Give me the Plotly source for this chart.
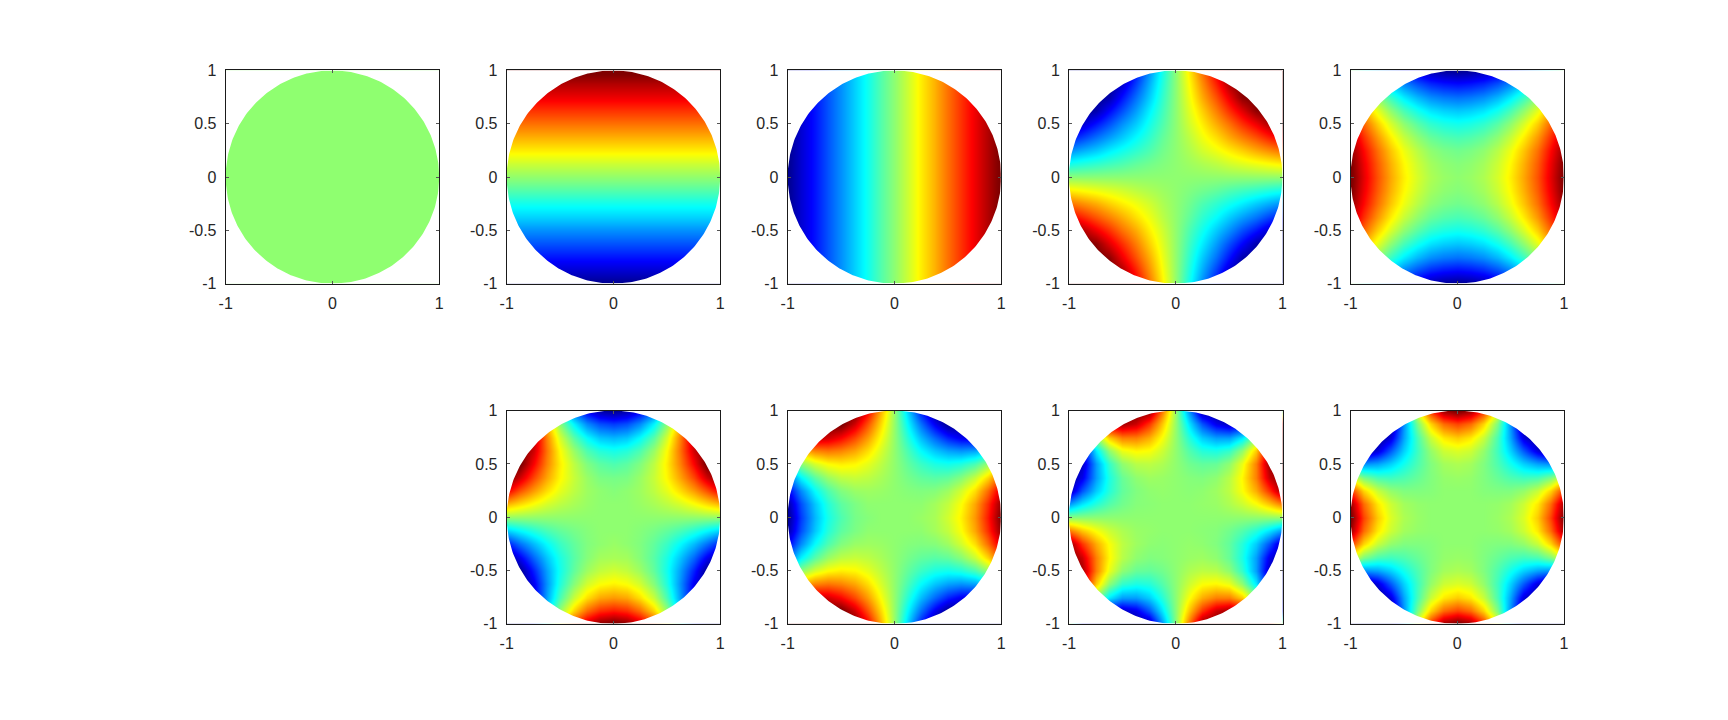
import numpy as np
import plotly.graph_objects as go

# Rows run from y = +1 (top) to y = -1 (bottom); columns from x = -1 to x = +1.
GRID = [-1, -.875, -.75, -.625, -.5, -.375, -.25, -.125, 0, .125, .25, .375, .5, .625, .75, .875, 1]
EDGE = [-1, 1]
TICK_VALUES = [-1, -0.5, 0, 0.5, 1]
Y_TICK_LABELS = ["-1", "-0.5", "0", "0.5", "1"]
X_TICK_VALUES = [-1, 0, 1]
X_TICK_LABELS = ["-1", "0", "1"]

PANEL_1 = [[0, 0], [0, 0]]
PANEL_2_ROWS = [100, 87, 75, 62, 50, 37, 25, 12, 0, -12, -25, -37, -50, -62, -75, -87, -100]
PANEL_3_COLUMNS = [-100, -87, -75, -62, -50, -37, -25, -12, 0, 12, 25, 37, 50, 62, 75, 87, 100]

PANEL_4 = [
    [-100,-100,-100,-100,-100,-75,-50,-25,0,25,50,75,100,100,100,100,100],
    [-100,-100,-100,-100,-88,-66,-44,-22,0,22,44,66,88,100,100,100,100],
    [-100,-100,-100,-94,-75,-56,-38,-19,0,19,38,56,75,94,100,100,100],
    [-100,-100,-94,-78,-63,-47,-31,-16,0,16,31,47,63,78,94,100,100],
    [-100,-88,-75,-63,-50,-38,-25,-13,0,13,25,38,50,63,75,88,100],
    [-75,-66,-56,-47,-38,-28,-19,-9,0,9,19,28,38,47,56,66,75],
    [-50,-44,-38,-31,-25,-19,-13,-6,0,6,13,19,25,31,38,44,50],
    [-25,-22,-19,-16,-13,-9,-6,-3,0,3,6,9,13,16,19,22,25],
    [0,0,0,0,0,0,0,0,0,0,0,0,0,0,0,0,0],
    [25,22,19,16,13,9,6,3,0,-3,-6,-9,-13,-16,-19,-22,-25],
    [50,44,38,31,25,19,13,6,0,-6,-13,-19,-25,-31,-38,-44,-50],
    [75,66,56,47,38,28,19,9,0,-9,-19,-28,-38,-47,-56,-66,-75],
    [100,88,75,63,50,38,25,13,0,-13,-25,-38,-50,-63,-75,-88,-100],
    [100,100,94,78,63,47,31,16,0,-16,-31,-47,-63,-78,-94,-100,-100],
    [100,100,100,94,75,56,38,19,0,-19,-38,-56,-75,-94,-100,-100,-100],
    [100,100,100,100,88,66,44,22,0,-22,-44,-66,-88,-100,-100,-100,-100],
    [100,100,100,100,100,75,50,25,0,-25,-50,-75,-100,-100,-100,-100,-100],
]

PANEL_5 = [
    [0,-23,-44,-61,-75,-86,-94,-98,-100,-98,-94,-86,-75,-61,-44,-23,0],
    [23,0,-21,-38,-52,-63,-71,-75,-77,-75,-71,-63,-52,-38,-21,0,23],
    [44,21,0,-17,-31,-42,-50,-54,-56,-54,-50,-42,-31,-17,0,21,44],
    [61,38,17,0,-14,-25,-33,-37,-39,-37,-33,-25,-14,0,17,38,61],
    [75,52,31,14,0,-11,-19,-23,-25,-23,-19,-11,0,14,31,52,75],
    [86,63,42,25,11,0,-8,-12,-14,-12,-8,0,11,25,42,63,86],
    [94,71,50,33,19,8,0,-4,-6,-4,0,8,19,33,50,71,94],
    [98,75,54,37,23,12,4,0,-2,0,4,12,23,37,54,75,98],
    [100,77,56,39,25,14,6,2,0,2,6,14,25,39,56,77,100],
    [98,75,54,37,23,12,4,0,-2,0,4,12,23,37,54,75,98],
    [94,71,50,33,19,8,0,-4,-6,-4,0,8,19,33,50,71,94],
    [86,63,42,25,11,0,-8,-12,-14,-12,-8,0,11,25,42,63,86],
    [75,52,31,14,0,-11,-19,-23,-25,-23,-19,-11,0,14,31,52,75],
    [61,38,17,0,-14,-25,-33,-37,-39,-37,-33,-25,-14,0,17,38,61],
    [44,21,0,-17,-31,-42,-50,-54,-56,-54,-50,-42,-31,-17,0,21,44],
    [23,0,-21,-38,-52,-63,-71,-75,-77,-75,-71,-63,-52,-38,-21,0,23],
    [0,-23,-44,-61,-75,-86,-94,-98,-100,-98,-94,-86,-75,-61,-44,-23,0],
]

PANEL_6 = [
    [100,100,69,17,-25,-58,-81,-95,-100,-95,-81,-58,-25,17,69,100,100],
    [100,100,81,36,-1,-30,-51,-63,-67,-63,-51,-30,-1,36,81,100,100],
    [100,100,84,46,14,-11,-28,-39,-42,-39,-28,-11,14,46,84,100,100],
    [100,100,81,49,22,2,-13,-21,-24,-21,-13,2,22,49,81,100,100],
    [100,100,72,46,25,9,-3,-10,-13,-10,-3,9,25,46,72,100,100],
    [100,81,58,39,23,11,2,-4,-5,-4,2,11,23,39,58,81,100],
    [74,56,41,28,17,9,3,0,-2,0,3,9,17,28,41,56,74],
    [37,29,21,14,9,5,2,0,0,0,2,5,9,14,21,29,37],
    [0,0,0,0,0,0,0,0,0,0,0,0,0,0,0,0,0],
    [-37,-29,-21,-14,-9,-5,-2,0,0,0,-2,-5,-9,-14,-21,-29,-37],
    [-74,-56,-41,-28,-17,-9,-3,0,2,0,-3,-9,-17,-28,-41,-56,-74],
    [-100,-81,-58,-39,-23,-11,-2,4,5,4,-2,-11,-23,-39,-58,-81,-100],
    [-100,-100,-72,-46,-25,-9,3,10,13,10,3,-9,-25,-46,-72,-100,-100],
    [-100,-100,-81,-49,-22,-2,13,21,24,21,13,-2,-22,-49,-81,-100,-100],
    [-100,-100,-84,-46,-14,11,28,39,42,39,28,11,-14,-46,-84,-100,-100],
    [-100,-100,-81,-36,1,30,51,63,67,63,51,30,1,-36,-81,-100,-100],
    [-100,-100,-69,-17,25,58,81,95,100,95,81,58,25,-17,-69,-100,-100],
]

PANEL_7 = [
    [100,100,100,100,100,100,73,37,0,-37,-73,-100,-100,-100,-100,-100,-100],
    [100,100,100,100,100,81,56,29,0,-29,-56,-81,-100,-100,-100,-100,-100],
    [69,81,84,81,72,58,41,21,0,-21,-41,-58,-72,-81,-84,-81,-69],
    [17,36,46,49,46,39,28,14,0,-14,-28,-39,-46,-49,-46,-36,-17],
    [-25,-1,14,22,25,23,17,9,0,-9,-17,-23,-25,-22,-14,1,25],
    [-58,-30,-11,2,9,11,9,5,0,-5,-9,-11,-9,-2,11,30,58],
    [-81,-51,-28,-13,-3,2,3,2,0,-2,-3,-2,3,13,28,51,81],
    [-95,-63,-39,-21,-10,-4,0,0,0,0,0,4,10,21,39,63,95],
    [-100,-67,-42,-24,-13,-5,-2,0,0,0,2,5,13,24,42,67,100],
    [-95,-63,-39,-21,-10,-4,0,0,0,0,0,4,10,21,39,63,95],
    [-81,-51,-28,-13,-3,2,3,2,0,-2,-3,-2,3,13,28,51,81],
    [-58,-30,-11,2,9,11,9,5,0,-5,-9,-11,-9,-2,11,30,58],
    [-25,-1,14,22,25,23,17,9,0,-9,-17,-23,-25,-22,-14,1,25],
    [17,36,46,49,46,39,28,14,0,-14,-28,-39,-46,-49,-46,-36,-17],
    [69,81,84,81,72,58,41,21,0,-21,-41,-58,-72,-81,-84,-81,-69],
    [100,100,100,100,100,81,56,29,0,-29,-56,-81,-100,-100,-100,-100,-100],
    [100,100,100,100,100,100,73,37,0,-37,-73,-100,-100,-100,-100,-100,-100],
]

PANEL_8 = [
    [0,82,100,100,100,100,94,49,0,-49,-94,-100,-100,-100,-100,-82,0],
    [-82,0,53,82,90,82,62,33,0,-33,-62,-82,-90,-82,-53,0,82],
    [-100,-53,0,32,47,47,38,21,0,-21,-38,-47,-47,-32,0,53,100],
    [-100,-82,-32,0,18,23,21,12,0,-12,-21,-23,-18,0,32,82,100],
    [-100,-90,-47,-18,0,8,9,6,0,-6,-9,-8,0,18,47,90,100],
    [-100,-82,-47,-23,-8,0,3,2,0,-2,-3,0,8,23,47,82,100],
    [-94,-62,-38,-21,-9,-3,0,1,0,-1,0,3,9,21,38,62,94],
    [-49,-33,-21,-12,-6,-2,-1,0,0,0,1,2,6,12,21,33,49],
    [0,0,0,0,0,0,0,0,0,0,0,0,0,0,0,0,0],
    [49,33,21,12,6,2,1,0,0,0,-1,-2,-6,-12,-21,-33,-49],
    [94,62,38,21,9,3,0,-1,0,1,0,-3,-9,-21,-38,-62,-94],
    [100,82,47,23,8,0,-3,-2,0,2,3,0,-8,-23,-47,-82,-100],
    [100,90,47,18,0,-8,-9,-6,0,6,9,8,0,-18,-47,-90,-100],
    [100,82,32,0,-18,-23,-21,-12,0,12,21,23,18,0,-32,-82,-100],
    [100,53,0,-32,-47,-47,-38,-21,0,21,38,47,47,32,0,-53,-100],
    [82,0,-53,-82,-90,-82,-62,-33,0,33,62,82,90,82,53,0,-82],
    [0,-82,-100,-100,-100,-100,-94,-49,0,49,94,100,100,100,100,82,0],
]

PANEL_9 = [
    [-100,-100,-100,-100,-44,18,63,91,100,91,63,18,-44,-100,-100,-100,-100],
    [-100,-100,-100,-100,-50,-4,30,51,59,51,30,-4,-50,-100,-100,-100,-100],
    [-100,-100,-100,-85,-46,-14,11,26,32,26,11,-14,-46,-85,-100,-100,-100],
    [-100,-100,-85,-61,-37,-16,1,12,15,12,1,-16,-37,-61,-85,-100,-100],
    [-44,-50,-46,-37,-25,-13,-3,4,6,4,-3,-13,-25,-37,-46,-50,-44],
    [18,-4,-14,-16,-13,-8,-3,1,2,1,-3,-8,-13,-16,-14,-4,18],
    [63,30,11,1,-3,-3,-2,0,0,0,-2,-3,-3,1,11,30,63],
    [91,51,26,12,4,1,0,0,0,0,0,1,4,12,26,51,91],
    [100,59,32,15,6,2,0,0,0,0,0,2,6,15,32,59,100],
    [91,51,26,12,4,1,0,0,0,0,0,1,4,12,26,51,91],
    [63,30,11,1,-3,-3,-2,0,0,0,-2,-3,-3,1,11,30,63],
    [18,-4,-14,-16,-13,-8,-3,1,2,1,-3,-8,-13,-16,-14,-4,18],
    [-44,-50,-46,-37,-25,-13,-3,4,6,4,-3,-13,-25,-37,-46,-50,-44],
    [-100,-100,-85,-61,-37,-16,1,12,15,12,1,-16,-37,-61,-85,-100,-100],
    [-100,-100,-100,-85,-46,-14,11,26,32,26,11,-14,-46,-85,-100,-100,-100],
    [-100,-100,-100,-100,-50,-4,30,51,59,51,30,-4,-50,-100,-100,-100,-100],
    [-100,-100,-100,-100,-44,18,63,91,100,91,63,18,-44,-100,-100,-100,-100],
]

# jet colour map, centred so that mid-scale is #90FF70 as in the reference
steps = np.arange(1, 65)
red = np.interp(steps, [0, 24, 40, 56, 64], [0, 0, 1, 1, .5])
green = np.interp(steps, [0, 8, 24, 40, 56, 64], [0, 0, 1, 1, 0, 0])
blue = np.interp(steps, [0, 8, 24, 40, 64], [.5, 1, 1, 0, 0])
JET = []
for i in range(64):
    colour = f"rgb({round(red[i]*255)},{round(green[i]*255)},{round(blue[i]*255)})"
    JET.append([i / 64, colour])
JET.append([1, colour])

# Figure size and the plot area measured on the rendered page.
W, H = 1712, 704
PLOT_LEFT, PLOT_TOP = 14.8, 16
PLOT_W, PLOT_H = 1700, 688
PANEL_W, PANEL_H = 213.5, 213.5
COLUMN_LEFT = [225.5, 506.5, 787.5, 1068.8, 1350.3]
ROW_TOP = [70.5, 411.2]

# (column, row, x, y, z)
panels = [
    (0, 0, EDGE, EDGE, PANEL_1),
    (1, 0, EDGE, GRID, [[v, v] for v in PANEL_2_ROWS[::-1]]),
    (2, 0, GRID, EDGE, [PANEL_3_COLUMNS, PANEL_3_COLUMNS]),
    (3, 0, GRID, GRID, PANEL_4[::-1]),
    (4, 0, GRID, GRID, PANEL_5[::-1]),
    (1, 1, GRID, GRID, PANEL_6[::-1]),
    (2, 1, GRID, GRID, PANEL_7[::-1]),
    (3, 1, GRID, GRID, PANEL_8[::-1]),
    (4, 1, GRID, GRID, PANEL_9[::-1]),
]

# White cover outside the unit disc (ring traced as one outline with a slit)
theta = np.linspace(0, 2 * np.pi, 361)
cover_x = list(np.cos(theta)) + [1.05, 1.05, -1.05, -1.05, 1.05, 1.05, 1]
cover_y = list(np.sin(theta)) + [0, -1.05, -1.05, 1.05, 1.05, 0, 0]

fig = go.Figure()
layout = {}
font = dict(family="Liberation Sans, Arial, sans-serif", size=16, color="#262626")
for n, (col, row, x, y, z) in enumerate(panels, start=1):
    suffix = "" if n == 1 else str(n)
    xa, ya = "xaxis" + suffix, "yaxis" + suffix
    fig.add_trace(go.Heatmap(x=x, y=y, z=z, xaxis="x" + suffix, yaxis="y" + suffix,
                             zmin=-100, zmax=100, zsmooth="best", colorscale=JET,
                             showscale=False, hoverinfo="skip"))
    fig.add_trace(go.Scatter(x=cover_x, y=cover_y, xaxis="x" + suffix, yaxis="y" + suffix,
                             mode="lines", line=dict(width=0, color="white"),
                             fill="toself", fillcolor="white",
                             hoverinfo="skip", showlegend=False))
    left = COLUMN_LEFT[col] - PLOT_LEFT
    top = ROW_TOP[row] - PLOT_TOP
    common = dict(range=[-1, 1], showgrid=False, zeroline=False, showline=True,
                  linecolor="#1a1a1a", linewidth=1, mirror="allticks", ticks="inside",
                  ticklen=3, tickwidth=1, tickcolor="#555555", tickfont=font,
                  fixedrange=True, ticklabelstandoff=5)
    layout[xa] = dict(common, domain=[left / PLOT_W, (left + PANEL_W) / PLOT_W], anchor="y" + suffix,
                      tickvals=X_TICK_VALUES, ticktext=X_TICK_LABELS)
    layout[ya] = dict(common, domain=[1 - (top + PANEL_H) / PLOT_H, 1 - top / PLOT_H], anchor="x" + suffix,
                      tickvals=TICK_VALUES, ticktext=Y_TICK_LABELS)

fig.update_layout(width=W, height=H, margin=dict(l=0, r=0, t=0, b=0),
                  paper_bgcolor="white", plot_bgcolor="white", showlegend=False, **layout)
fig.write_html("out.html", config={"displayModeBar": False})
